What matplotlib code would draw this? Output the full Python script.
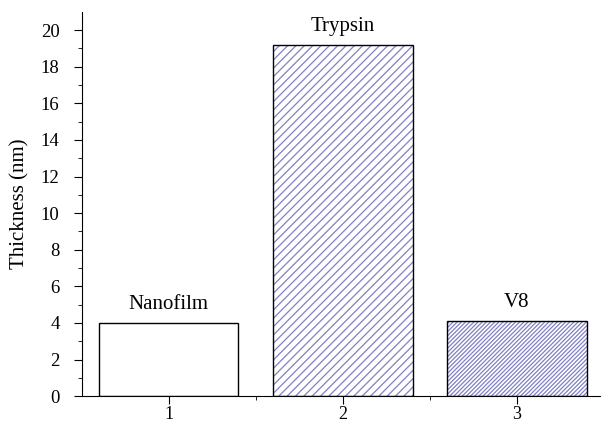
import matplotlib.pyplot as plt

# Data
positions = [1, 2, 3]
names = ["Nanofilm", "Trypsin", "V8"]
thickness = [4.0, 19.2, 4.1]
hatches = ["", "////", "////////"]

plt.rcParams['font.family'] = ['Liberation Serif', 'DejaVu Serif']
plt.rcParams['hatch.linewidth'] = 0.9

fig = plt.figure(figsize=(6.01, 4.25), dpi=100)
ax = fig.add_axes([0.136, 0.068, 0.869, 0.904])

hatch_col = '#8080c4'
for x, h, hp in zip(positions, thickness, hatches):
    # hatch layer, then black outline on top
    ax.bar(x, h, width=0.8, color='white', edgecolor=hatch_col, hatch=hp, linewidth=0)
    ax.bar(x, h, width=0.8, fill=False, edgecolor='black', linewidth=1.0)

for x, h, n in zip(positions, thickness, names):
    ax.text(x, h + 0.5, n, ha='center', va='bottom', fontsize=15)

ax.set_xlim(0.5, 3.5)
ax.set_ylim(0, 21)
ax.set_xticks(positions)
ax.set_xticks([1.5, 2.5], minor=True)
ax.set_yticks(range(0, 21, 2))
ax.set_yticks(range(1, 21, 2), minor=True)
ax.set_ylabel("Thickness (nm)", fontsize=15, labelpad=8)

ax.spines['top'].set_visible(False)
ax.spines['right'].set_visible(False)
ax.tick_params(axis='both', which='major', direction='out', length=6, labelsize=13.5)
ax.tick_params(axis='both', which='minor', direction='out', length=3)
ax.tick_params(axis='x', which='major', length=6, labelsize=13, pad=1)
ax.tick_params(axis='y', which='major', pad=10)

fig.savefig("out.png", dpi=100)
